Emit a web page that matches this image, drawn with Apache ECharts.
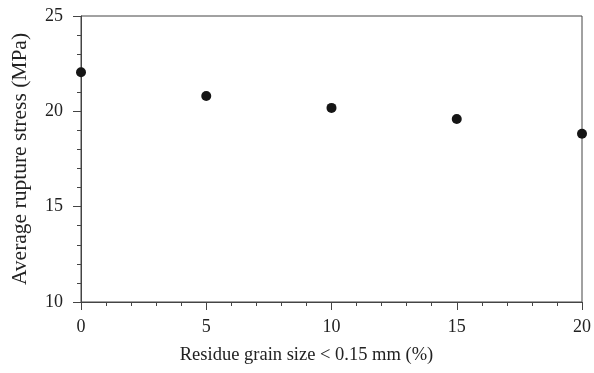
<!DOCTYPE html>
<html>
<head>
<meta charset="utf-8">
<script src="https://cdn.jsdelivr.net/npm/echarts@6/dist/echarts.min.js"></script>
<style>
  html, body { margin: 0; padding: 0; background: #fff; }
  #chart { width: 594px; height: 373px; }
</style>
</head>
<body>
<div id="chart"></div>
<script>
// residue grain size < 0.15 mm (%)
const grainSize = [0, 5, 10, 15, 20];
// average rupture stress (MPa)
const ruptureStress = [22.05, 20.8, 20.18, 19.6, 18.82];

const xLabel = 'Residue grain size < 0.15 mm (%)';
const yLabel = 'Average rupture stress (MPa)';

const points = grainSize.map((g, i) => [g, ruptureStress[i]]);

const axisColor = '#444';
const font = 'Liberation Serif';

const chart = echarts.init(document.getElementById('chart'));
chart.setOption({
    animation: false,
    grid: {
        left: 81,
        right: 12,
        top: 16,
        bottom: 71,
        show: true,
        borderColor: axisColor,
        borderWidth: 1
    },
    xAxis: {
        type: 'value',
        min: 0,
        max: 20,
        interval: 5,
        name: xLabel,
        nameLocation: 'middle',
        nameGap: 44,
        nameTextStyle: {
            fontFamily: font,
            fontSize: 18.5,
            color: '#222',
            padding: [0, 50, 0, 0]
        },
        axisLine: {lineStyle: {color: axisColor}},
        axisTick: {show: true, inside: false, length: 8, lineStyle: {color: axisColor}},
        minorTick: {show: true, splitNumber: 5, length: 4, lineStyle: {color: axisColor}},
        splitLine: {show: false},
        axisLabel: {
            margin: 16,
            fontFamily: font,
            fontSize: 18,
            color: '#222'
        }
    },
    yAxis: {
        type: 'value',
        min: 10,
        max: 25,
        interval: 5,
        name: yLabel,
        nameLocation: 'middle',
        nameGap: 50,
        nameTextStyle: {
            fontFamily: font,
            fontSize: 21.5,
            color: '#222'
        },
        axisLine: {show: true, lineStyle: {color: axisColor}},
        axisTick: {show: true, inside: false, length: 8, lineStyle: {color: axisColor}},
        minorTick: {show: true, splitNumber: 5, length: 4, lineStyle: {color: axisColor}},
        splitLine: {show: false},
        axisLabel: {
            margin: 18,
            fontFamily: font,
            fontSize: 18,
            color: '#222'
        }
    },
    series: [{
        type: 'scatter',
        data: points,
        symbol: 'circle',
        symbolSize: 10,
        clip: false,
        itemStyle: {color: '#151515', opacity: 1}
    }]
});
</script>
</body>
</html>
